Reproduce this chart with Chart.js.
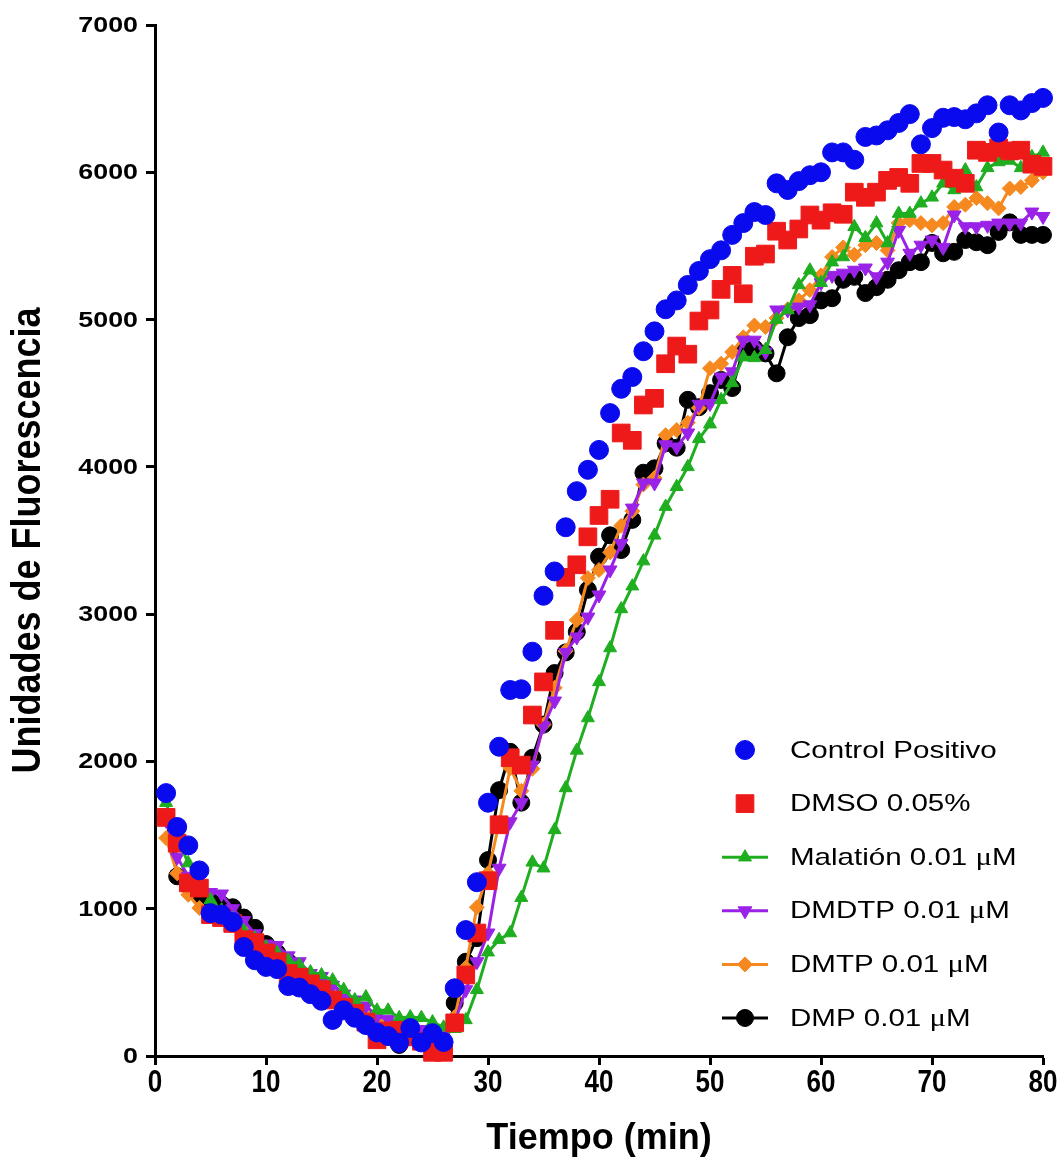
<!DOCTYPE html>
<html>
<head>
<meta charset="utf-8">
<script src="https://cdn.jsdelivr.net/npm/chart.js@4.4.1/dist/chart.umd.min.js"></script>
<style>
  html, body { margin: 0; padding: 0; background: #fff; }
  #wrap { width: 1060px; height: 1158px; }
</style>
</head>
<body>
<div id="wrap"><canvas id="chart" width="1060" height="1158"></canvas></div>
<script>
// minutes (x)
const tiempo = [
  1, 2, 3, 4, 5, 6, 7, 8, 9, 10, 11, 12, 13, 14, 15, 16, 17, 18, 19, 20,
  21, 22, 23, 24, 25, 26, 27, 28, 29, 30, 31, 32, 33, 34, 35, 36, 37, 38, 39, 40,
  41, 42, 43, 44, 45, 46, 47, 48, 49, 50, 51, 52, 53, 54, 55, 56, 57, 58, 59, 60,
  61, 62, 63, 64, 65, 66, 67, 68, 69, 70, 71, 72, 73, 74, 75, 76, 77, 78, 79, 80
];

const controlPositivo = [
  1785, 1555, 1430, 1260, 970, 960, 910, 740, 650, 605,
  590, 475, 465, 420, 375, 245, 310, 260, 210, 160,
  135, 90, 190, 92, 155, 95, 460, 855, 1180, 1720,
  2100, 2485, 2490, 2745, 3125, 3290, 3590, 3835, 3980, 4115,
  4365, 4530, 4610, 4785, 4920, 5070, 5130, 5235, 5330, 5410,
  5470, 5575, 5655, 5730, 5710, 5925, 5880, 5940, 5980, 6000,
  6135, 6135, 6085, 6240, 6250, 6285, 6335, 6395, 6190, 6300,
  6370, 6375, 6360, 6400, 6455, 6270, 6455, 6420, 6470, 6505
];

const dmso = [
  1620, 1445, 1175, 1140, 960, 940, 900, 790, 770, 700,
  640, 560, 535, 490, 450, 380, 330, 290, 230, 110,
  170, 175, 130, 100, 25, 25, 225, 550, 835, 1190,
  1570, 2025, 1975, 2315, 2540, 2890, 3250, 3335, 3525, 3670,
  3780, 4230, 4180, 4420, 4465, 4700, 4820, 4765, 4990, 5065,
  5205, 5300, 5175, 5430, 5445, 5600, 5540, 5615, 5710, 5675,
  5725, 5715, 5865, 5830, 5865, 5945, 5965, 5925, 6060, 6060,
  6015, 5960, 5925, 6150, 6135, 6165, 6145, 6150, 6055, 6040
];

const malation = [
  1720, 1480, 1310, 1170, 1060, 990, 930, 850, 800, 740,
  700, 650, 620, 570, 550, 515, 450, 380, 400, 310,
  310, 260, 265, 260, 230, 195, 185, 245, 450, 705,
  790, 835, 1075, 1315, 1275, 1535, 1820, 2075, 2295, 2540,
  2770, 3035, 3190, 3360, 3535, 3730, 3865, 4000, 4190, 4290,
  4455, 4570, 4745, 4740, 4795, 5000, 5065, 5235, 5335, 5250,
  5390, 5425, 5630, 5555, 5655, 5520, 5720, 5720, 5790, 5830,
  5925, 5880, 6015, 5900, 6030, 6070, 6080, 6030, 6105, 6135
];

const dmdtp = [
  1600, 1350, 1220, 1150, 1110, 1100, 1000, 920, 830, 760,
  750, 680, 640, 560, 540, 480, 420, 380, 340, 270,
  250, 220, 190, 180, 170, 140, 230, 450, 640, 835,
  1275, 1590, 1720, 1975, 2240, 2410, 2740, 2845, 2980, 3130,
  3300, 3480, 3720, 3890, 3890, 4150, 4135, 4230, 4425, 4430,
  4610, 4645, 4860, 4860, 4780, 5065, 5065, 5085, 5100, 5250,
  5300, 5315, 5335, 5350, 5290, 5390, 5605, 5450, 5505, 5540,
  5490, 5710, 5630, 5630, 5640, 5655, 5655, 5655, 5730, 5700
];

const dmtp = [
  1480, 1240, 1095, 1005, 960, 950, 920, 850, 780, 720,
  680, 620, 560, 520, 480, 430, 380, 330, 290, 230,
  200, 170, 150, 120, 80, 50, 265, 600, 1010, 1240,
  1580, 1955, 1800, 1950, 2250, 2500, 2750, 2960, 3245, 3300,
  3420, 3600, 3700, 3880, 3925, 4215, 4250, 4300, 4400, 4670,
  4700, 4780, 4880, 4960, 4950, 5010, 5070, 5130, 5200, 5300,
  5425, 5490, 5440, 5505, 5520, 5470, 5655, 5675, 5655, 5640,
  5655, 5765, 5780, 5825, 5790, 5755, 5890, 5900, 5945, 6000
];

const dmp = [
  1620, 1220, 1160, 1090, 1050, 1030, 1010, 940, 870, 760,
  700, 640, 560, 520, 460, 420, 360, 300, 270, 200,
  180, 75, 140, 100, 80, 60, 360, 640, 800, 1330,
  1805, 2065, 1720, 2025, 2250, 2600, 2740, 2880, 3165, 3390,
  3535, 3435, 3640, 3960, 3990, 4160, 4130, 4455, 4405, 4500,
  4590, 4535, 4790, 4805, 4770, 4635, 4880, 5010, 5030, 5130,
  5145, 5270, 5290, 5180, 5220, 5270, 5335, 5390, 5390, 5520,
  5450, 5460, 5540, 5525, 5505, 5595, 5660, 5575, 5575, 5575
];

const xTicks = [0, 10, 20, 30, 40, 50, 60, 70, 80];
const yTicks = [0, 1000, 2000, 3000, 4000, 5000, 6000, 7000];

function pts(vals) {
  return vals.map((v, i) => ({ x: tiempo[i], y: v }));
}

function serie(label, vals, color, style, extra) {
  return Object.assign({
    label,
    data: pts(vals),
    borderColor: color,
    backgroundColor: color,
    pointBackgroundColor: color,
    pointBorderColor: color,
    pointBorderWidth: 1,
    pointStyle: style,
    borderWidth: 3,
    tension: 0,
    clip: false
  }, extra);
}

const datasets = [
  serie("Control Positivo", controlPositivo, "#0a0aee", "circle", { showLine: false, pointRadius: 9.5 }),
  serie("DMSO 0.05%", dmso, "#ee1a1a", "rect", { showLine: false, pointRadius: 12.5 }),
  serie("Malatión 0.01 μM", malation, "#1fae1f", "triangle", { pointRadius: 7.5 }),
  serie("DMDTP 0.01 μM", dmdtp, "#9a22e6", "triangle", { pointRadius: 8, pointRotation: 180 }),
  serie("DMTP 0.01 μM", dmtp, "#f5891f", "rectRot", { pointRadius: 7.5 }),
  serie("DMP 0.01 μM", dmp, "#000000", "circle", { pointRadius: 8.5 })
];

// draws tick labels, axis titles and the legend by hand so the fonts can be stretched like the original
const labelsPlugin = {
  id: "labels",
  afterDraw(chart) {
    const ctx = chart.ctx;
    const xs = chart.scales.x, ys = chart.scales.y;
    ctx.save();
    ctx.fillStyle = "#000";

    // y tick labels
    ctx.font = "bold 22px 'Liberation Sans'";
    ctx.textAlign = "right";
    ctx.textBaseline = "middle";
    yTicks.forEach(v => {
      ctx.save();
      ctx.translate(138, ys.getPixelForValue(v) + 1);
      ctx.scale(1.22, 1);
      ctx.fillText(String(v), 0, 0);
      ctx.restore();
    });

    // x tick labels (condensed)
    ctx.font = "bold 31px 'Liberation Sans'";
    ctx.textAlign = "center";
    xTicks.forEach(v => {
      ctx.save();
      ctx.translate(xs.getPixelForValue(v), 1083);
      ctx.scale(0.84, 1);
      ctx.fillText(String(v), 0, 0);
      ctx.restore();
    });

    // axis titles
    ctx.font = "bold 36px 'Liberation Sans'";
    ctx.fillText("Tiempo (min)", (xs.left + xs.right) / 2, 1139);
    ctx.save();
    ctx.translate(29, (ys.top + ys.bottom) / 2);
    ctx.rotate(-Math.PI / 2);
    ctx.scale(1, 1.15);
    ctx.fillText("Unidades de Fluorescencia", 0, 0);
    ctx.restore();

    // legend
    const lx = 745, tx = 790, y0 = 750, step = 53.6;
    chart.data.datasets.forEach((ds, i) => {
      const y = y0 + i * step;
      ctx.strokeStyle = ds.borderColor;
      ctx.fillStyle = ds.backgroundColor;
      if (ds.showLine !== false) {
        ctx.lineWidth = 3;
        ctx.beginPath();
        ctx.moveTo(lx - 23, y);
        ctx.lineTo(lx + 23, y);
        ctx.stroke();
      }
      ctx.lineWidth = 1;
      Chart.helpers.drawPoint(ctx, {
        pointStyle: ds.pointStyle,
        radius: ds.pointRadius,
        rotation: ds.pointRotation || 0,
        borderWidth: 1
      }, lx, y);

      ctx.fillStyle = "#000";
      ctx.textAlign = "left";
      ctx.textBaseline = "middle";
      ctx.save();
      ctx.translate(tx, y + 1);
      ctx.scale(1.23, 1);
      const parts = ds.label.split("μ");
      ctx.font = "24px 'Liberation Sans'";
      ctx.fillText(parts[0], 0, 0);
      if (parts.length > 1) {
        let w = ctx.measureText(parts[0]).width;
        ctx.font = "25px 'Liberation Serif'";
        ctx.fillText("μ", w, 0);
        w += ctx.measureText("μ").width;
        ctx.font = "24px 'Liberation Sans'";
        ctx.fillText(parts[1], w, 0);
      }
      ctx.restore();
    });
    ctx.restore();
  }
};

new Chart(document.getElementById("chart"), {
  type: "line",
  data: { datasets },
  options: {
    responsive: false,
    animation: false,
    layout: { padding: { left: 0, top: 25, right: 17, bottom: 0 } },
    plugins: {
      legend: { display: false },
      tooltip: { enabled: false }
    },
    scales: {
      x: {
        type: "linear",
        min: 0,
        max: 80,
        ticks: { stepSize: 10, display: false },
        grid: { drawOnChartArea: false, drawTicks: true, tickLength: 9, tickColor: "#000", tickWidth: 3 },
        border: { display: true, color: "#000", width: 3 },
        afterFit(scale) { scale.height = 102; }
      },
      y: {
        min: 0,
        max: 7000,
        ticks: { stepSize: 1000, display: false },
        grid: { drawOnChartArea: false, drawTicks: true, tickLength: 9, tickColor: "#000", tickWidth: 3 },
        border: { display: true, color: "#000", width: 3 },
        afterFit(scale) { scale.width = 155; }
      }
    }
  },
  plugins: [labelsPlugin]
});
</script>
</body>
</html>
